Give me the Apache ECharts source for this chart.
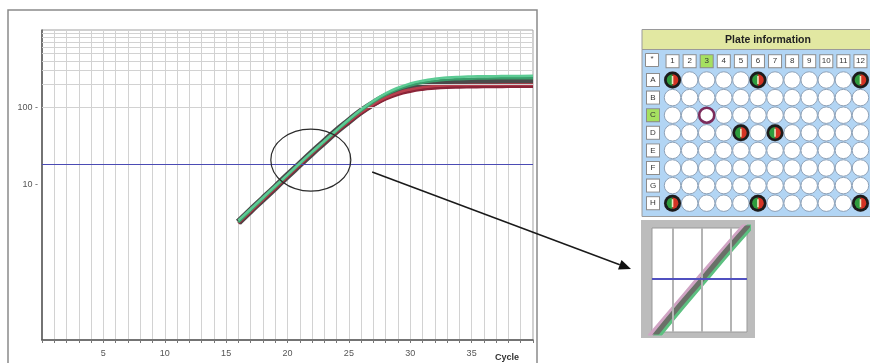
<!DOCTYPE html>
<html>
<head>
<meta charset="utf-8">
<script src="https://cdn.jsdelivr.net/npm/echarts@6/dist/echarts.min.js"></script>
<style>
  html, body { margin: 0; padding: 0; background: #fff; }
  #chart { width: 870px; height: 363px; }
</style>
</head>
<body>
<div id="chart"></div>
<script>
// amplification curves, one value per cycle
const cycles = [16, 17, 18, 19, 20, 21, 22, 23, 24, 25, 26, 27, 28, 29, 30, 31, 32, 33, 34, 35, 36, 37, 38, 39, 40];
const greenA = [3.5, 4.9, 6.9, 9.7, 13.6, 19.1, 26.7, 37, 51, 70, 94, 122, 152, 180, 204, 222, 235, 243, 248, 251, 253, 254, 255, 255, 256];
const greenB = [3.3, 4.7, 6.7, 9.4, 13.3, 18.7, 26.2, 36, 50, 68, 91, 117, 145, 171, 192, 208, 220, 228, 232, 235, 237, 238, 238, 239, 239];
const redA = [3.3, 4.6, 6.5, 9.2, 13.0, 18.3, 25.7, 35.5, 49, 66, 87, 110, 134, 155, 171, 182, 189, 193, 195, 196, 197, 197, 198, 198, 198];
const redB = [3.2, 4.5, 6.4, 9.0, 12.8, 18.0, 25.3, 35, 48, 64, 84, 106, 128, 147, 161, 171, 177, 181, 183, 184, 185, 185, 186, 186, 186];
const dark = [3.3, 4.7, 6.6, 9.3, 13.2, 18.5, 26, 36, 50, 67, 89, 113, 139, 162, 180, 193, 202, 207, 210, 212, 213, 214, 214, 215, 215];

const threshold = 18.7;
const hGrid = [100, 200, 300, 400, 500, 600, 700, 800, 900];
const yLabels = [10, 100];
const insetCycles = [20, 21, 22];

// plate layout
const plateCols = ['1', '2', '3', '4', '5', '6', '7', '8', '9', '10', '11', '12'];
const plateRows = ['A', 'B', 'C', 'D', 'E', 'F', 'G', 'H'];
const usedWells = ['A1', 'A6', 'A12', 'D5', 'D7', 'H1', 'H6', 'H12'];
const selectedWell = 'C3';
const selCol = '3';
const selRow = 'C';

const pairs = (arr) => cycles.map((c, i) => [c, arr[i]]);
const wellPos = (w) => [plateCols.indexOf(w.slice(1)), plateRows.indexOf(w[0])];

const allWells = [];
plateRows.forEach((r, ri) => plateCols.forEach((c, ci) => allWells.push([ci, ri])));

const FONT = 'Liberation Sans';
const chart = echarts.init(document.getElementById('chart'));

const curve = (name, arr, color, width, xi, z) => ({
    name, type: 'line', data: pairs(arr), xAxisIndex: xi, yAxisIndex: xi,
    showSymbol: false, smooth: true, silent: true, z,
    lineStyle: { color, width }, clip: true,
});

const cellBox = {
    backgroundColor: '#fff', borderColor: '#8c8c8c', borderWidth: 1,
    width: 12, height: 12, lineHeight: 12, align: 'center',
    fontSize: 8, color: '#333', fontFamily: FONT,
};
const cellHi = Object.assign({}, cellBox, { backgroundColor: '#a6e060' });

chart.setOption({
    animation: false,
    grid: [
        { left: 42, top: 30, width: 491, height: 310, show: true, borderColor: '#a0a0a0', borderWidth: 1 },
        { left: 652, top: 228, width: 95, height: 104, show: true, backgroundColor: '#fff', borderColor: '#999', borderWidth: 1 },
        { left: 664, top: 71.2, width: 216, height: 140.8 },
    ],
    xAxis: [
        {
            type: 'value', gridIndex: 0, min: 0, max: 40, interval: 1,
            axisLine: { lineStyle: { color: '#555', width: 1.5 } },
            axisTick: { show: true, length: 3, lineStyle: { color: '#777' } },
            splitLine: { show: true, lineStyle: { color: '#d2d2d2', width: 1 } },
            axisLabel: {
                margin: 9, color: '#555', fontSize: 9, fontFamily: FONT,
                formatter: (v) => (v % 5 === 0 && v > 0 && v < 40 ? String(v) : ''),
            },
        },
        { type: 'value', gridIndex: 1, min: 19.28, max: 22.57, show: false, splitLine: { show: false } },
        {
            type: 'category', gridIndex: 2, data: plateCols, position: 'top',
            axisLine: { show: false }, axisTick: { show: false }, splitLine: { show: false },
            axisLabel: {
                margin: 4, interval: 0,
                formatter: (v) => (v === selCol ? '{h|' + v + '}' : '{n|' + v + '}'),
                rich: { n: cellBox, h: cellHi },
            },
        },
    ],
    yAxis: [
        {
            type: 'log', gridIndex: 0, logBase: 10, min: 0.1, max: 1000,
            axisLine: { show: true, lineStyle: { color: '#555', width: 1.5 } },
            axisTick: { show: false },
            splitLine: { show: false },
            axisLabel: {
                margin: 4, color: '#555', fontSize: 9, fontFamily: FONT,
                formatter: (v) => (yLabels.indexOf(Math.round(v)) >= 0 ? String(Math.round(v)) + ' -' : ''),
            },
        },
        { type: 'log', gridIndex: 1, min: 11, max: 31, show: false, splitLine: { show: false } },
        {
            type: 'category', gridIndex: 2, data: plateRows, inverse: true,
            axisLine: { show: false }, axisTick: { show: false }, splitLine: { show: false },
            axisLabel: {
                margin: 5, interval: 0,
                formatter: (v) => (v === selRow ? '{h|' + v + '}' : '{n|' + v + '}'),
                rich: { n: cellBox, h: cellHi },
            },
        },
    ],
    series: [
        // main plot gridlines and threshold
        {
            type: 'line', data: [], xAxisIndex: 0, yAxisIndex: 0, z: 1,
            markLine: {
                silent: true, symbol: 'none', label: { show: false },
                lineStyle: { color: '#d2d2d2', width: 1, type: 'solid' },
                data: hGrid.map((v) => ({ yAxis: v })),
            },
        },
        {
            type: 'line', data: [], xAxisIndex: 0, yAxisIndex: 0, z: 2,
            markLine: {
                silent: true, symbol: 'none', label: { show: false },
                lineStyle: { color: '#4b4bb4', width: 1, type: 'solid' },
                data: [{ yAxis: threshold }],
            },
        },
        curve('dark', dark, '#4a4a4a', 7, 0, 3),
        curve('redB', redB, '#8a2438', 3, 0, 4),
        curve('redA', redA, '#b8404e', 2.5, 0, 4),
        curve('greenB', greenB, '#3a9c6a', 2.5, 0, 5),
        curve('greenA', greenA, '#5ccb94', 2.5, 0, 5),

        // inset: zoom of the threshold crossing
        {
            type: 'line', data: [], xAxisIndex: 1, yAxisIndex: 1, z: 1,
            markLine: {
                silent: true, symbol: 'none', label: { show: false },
                lineStyle: { color: '#b4b4b4', width: 2, type: 'solid' },
                data: insetCycles.map((v) => ({ xAxis: v })),
            },
        },
        {
            type: 'line', data: [], xAxisIndex: 1, yAxisIndex: 1, z: 2,
            markLine: {
                silent: true, symbol: 'none', label: { show: false },
                lineStyle: { color: '#5050c0', width: 2, type: 'solid' },
                data: [{ yAxis: threshold }],
            },
        },
        curve('insetPink', greenA, '#d0a4c4', 7, 1, 3),
        curve('insetGreen', redB, '#5cc080', 7, 1, 3),
        curve('insetDark', dark, '#6a7068', 5, 1, 4),

        // plate wells
        {
            type: 'scatter', xAxisIndex: 2, yAxisIndex: 2, data: allWells, silent: true,
            symbol: 'circle', symbolSize: 16.5, z: 3,
            itemStyle: { color: '#fff', borderColor: '#8fa2b8', borderWidth: 1, opacity: 1 },
        },
        {
            type: 'scatter', xAxisIndex: 2, yAxisIndex: 2, data: [wellPos(selectedWell)], silent: true,
            symbol: 'circle', symbolSize: 15, z: 4,
            itemStyle: { color: '#fff', borderColor: '#7c2c5c', borderWidth: 2.5, opacity: 1 },
        },
        {
            type: 'custom', xAxisIndex: 2, yAxisIndex: 2, data: usedWells.map(wellPos), silent: true, z: 5,
            renderItem: (params, api) => {
                const p = api.coord([api.value(0), api.value(1)]);
                return {
                    type: 'group',
                    children: [
                        { type: 'circle', shape: { cx: p[0], cy: p[1], r: 8.5 }, style: { fill: '#1c1c1c' } },
                        { type: 'sector', shape: { cx: p[0], cy: p[1], r: 5.8, startAngle: Math.PI / 2, endAngle: Math.PI * 1.5 }, style: { fill: '#2f9c3e' } },
                        { type: 'sector', shape: { cx: p[0], cy: p[1], r: 5.8, startAngle: -Math.PI / 2, endAngle: Math.PI / 2 }, style: { fill: '#d43424' } },
                        { type: 'rect', shape: { x: p[0] - 0.8, y: p[1] - 4, width: 1.6, height: 8 }, style: { fill: '#f0e8c0' } },
                    ],
                };
            },
        },
    ],
});

// annotations, placed from data coordinates of the main plot
const c = chart.convertToPixel({ gridIndex: 0 }, [21.9, 21]);
const a0 = chart.convertToPixel({ gridIndex: 0 }, [26.9, 14.7]);
const a1 = [631, 269];
const dx = a1[0] - a0[0], dy = a1[1] - a0[1];
const len = Math.sqrt(dx * dx + dy * dy);
const ux = dx / len, uy = dy / len;
const hl = 12, hw = 5;
const base = [a1[0] - ux * hl, a1[1] - uy * hl];

chart.setOption({
    graphic: [
        // outer frame of the amplification plot
        { type: 'polyline', z: 0, shape: { points: [[8, 364], [8, 10], [537, 10], [537, 364]] }, style: { stroke: '#8a8a8a', lineWidth: 1.5, fill: null } },
        // plate panel
        { type: 'rect', z: -1, shape: { x: 642, y: 49.5, width: 240, height: 167 }, style: { fill: '#b2d5f4', stroke: '#9a9a9a', lineWidth: 1 } },
        { type: 'rect', z: -1, shape: { x: 642, y: 29.5, width: 240, height: 20 }, style: { fill: '#e2e8a2', stroke: '#9a9a9a', lineWidth: 1 } },
        { type: 'text', z: 10, x: 768, y: 40, style: { text: 'Plate information', font: 'bold 10.5px "Liberation Sans"', fill: '#222', align: 'center', verticalAlign: 'middle' } },
        { type: 'rect', z: 10, shape: { x: 645.5, y: 53.5, width: 13, height: 13 }, style: { fill: '#fff', stroke: '#8c8c8c', lineWidth: 1 } },
        { type: 'text', z: 11, x: 652, y: 59, style: { text: '*', font: '8px "Liberation Sans"', fill: '#444', align: 'center', verticalAlign: 'middle' } },
        // inset frame
        { type: 'rect', z: -1, shape: { x: 641, y: 220, width: 114, height: 118 }, style: { fill: '#bcbcbc' } },
        // x-axis title
        { type: 'text', z: 10, x: 507, y: 358, style: { text: 'Cycle', font: 'bold 9px "Liberation Sans"', fill: '#333', align: 'center', verticalAlign: 'middle' } },
        // ellipse round the threshold crossing
        { type: 'ellipse', z: 20, shape: { cx: c[0], cy: c[1], rx: 40, ry: 31 }, style: { fill: null, stroke: '#2a2a2a', lineWidth: 1.2 } },
        // arrow to the inset
        { type: 'line', z: 20, shape: { x1: a0[0], y1: a0[1], x2: base[0], y2: base[1] }, style: { stroke: '#1a1a1a', lineWidth: 1.5 } },
        {
            type: 'polygon', z: 20,
            shape: { points: [a1, [base[0] - uy * hw, base[1] + ux * hw], [base[0] + uy * hw, base[1] - ux * hw]] },
            style: { fill: '#111' },
        },
    ],
});

window.addEventListener('resize', () => chart.resize());
</script>
</body>
</html>
